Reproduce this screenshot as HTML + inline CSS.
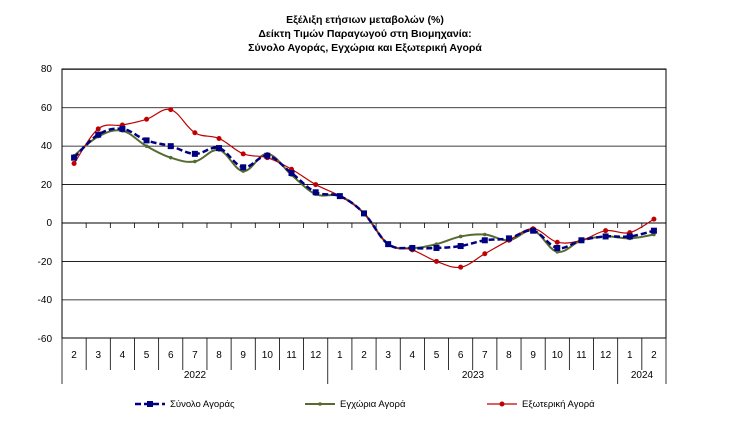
<!DOCTYPE html>
<html><head><meta charset="utf-8"><style>
body{margin:0;background:#fff;}
svg{display:block;font-family:"Liberation Sans",Arial,sans-serif;}
</style></head><body>
<svg id="s" width="730" height="426" viewBox="0 0 730 426">
<g font-size="10.5" font-weight="bold" text-anchor="middle" fill="#000">
<text x="365" y="23">Εξέλιξη ετήσιων μεταβολών (%)</text>
<text x="365" y="37">Δείκτη Τιμών Παραγωγού στη Βιομηχανία:</text>
<text x="365" y="51">Σύνολο Αγοράς, Εγχώρια και Εξωτερική Αγορά</text>
</g>
<g id="grid"></g>
<g font-size="10" text-anchor="end" fill="#000">
<text x="52" y="72">80</text><text x="52" y="111">60</text><text x="52" y="149">40</text>
<text x="52" y="188">20</text><text x="52" y="226">0</text><text x="52" y="265">-20</text>
<text x="52" y="303">-40</text><text x="52" y="342">-60</text>
</g>
<g id="xl" font-size="10" text-anchor="middle" fill="#000"></g>
<g font-size="10" text-anchor="middle" fill="#000">
<text x="195" y="378">2022</text><text x="473" y="378">2023</text><text x="642" y="378">2024</text>
</g>
<g font-size="9.5" fill="#000">
<line x1="135" y1="404" x2="165" y2="404" stroke="#000080" stroke-width="2.5" stroke-dasharray="6,3"/>
<rect x="147" y="401" width="6" height="6" fill="#000080"/>
<text x="170" y="407">Σύνολο Αγοράς</text>
<line x1="305" y1="404" x2="335" y2="404" stroke="#556b2f" stroke-width="2"/>
<circle cx="320" cy="404" r="1.8" fill="#556b2f"/>
<text x="340" y="407">Εγχώρια Αγορά</text>
<line x1="487" y1="404" x2="517" y2="404" stroke="#c00000" stroke-width="1.2"/>
<circle cx="502" cy="404" r="2.5" fill="#c00000"/>
<text x="522" y="407">Εξωτερική Αγορά</text>
</g>
<g id="series"></g>
</svg>
<script>
var L=62,R=666,T=69,B=338,n=25,w=(R-L)/n;
function Y(v){return 223-v*1.921;}
function X(i){return L+w*(i+0.5);}
var ns="http://www.w3.org/2000/svg";
function el(p,t,a){var e=document.createElementNS(ns,t);for(var k in a)e.setAttribute(k,a[k]);p.appendChild(e);return e;}
var g=document.getElementById('grid');
[80,60,40,20,-20,-40].forEach(function(v){el(g,'line',{x1:L,x2:R,y1:Y(v),y2:Y(v),stroke:'#000','stroke-width':0.8});});
el(g,'rect',{x:L,y:T,width:R-L,height:B-T,fill:'none',stroke:'#000','stroke-width':1});
el(g,'line',{x1:L,x2:R,y1:223,y2:223,stroke:'#000','stroke-width':1});
for(var i=1;i<n;i++){el(g,'line',{x1:L+w*i,x2:L+w*i,y1:223,y2:228,stroke:'#000','stroke-width':0.8});
 var yr=(i==11||i==23);el(g,'line',{x1:L+w*i,x2:L+w*i,y1:B,y2:yr?384:370,stroke:'#000','stroke-width':0.8});}
el(g,'line',{x1:L,x2:L,y1:B,y2:384,stroke:'#000','stroke-width':0.8});
el(g,'line',{x1:R,x2:R,y1:B,y2:384,stroke:'#000','stroke-width':0.8});
var m=[2,3,4,5,6,7,8,9,10,11,12,1,2,3,4,5,6,7,8,9,10,11,12,1,2];
var xl=document.getElementById('xl');
m.forEach(function(v,i){var t=el(xl,'text',{x:X(i),y:358});t.textContent=v;});
function path(d){var p=d.map(function(v,i){return[X(i),Y(v)];});var s='M'+p[0][0]+','+p[0][1];
 for(var i=0;i<p.length-1;i++){var p0=p[i-1]||p[i],p1=p[i],p2=p[i+1],p3=p[i+2]||p2,t=0.18;
 s+=' C'+(p1[0]+(p2[0]-p0[0])*t)+','+(p1[1]+(p2[1]-p0[1])*t)+' '+(p2[0]-(p3[0]-p1[0])*t)+','+(p2[1]-(p3[1]-p1[1])*t)+' '+p2[0]+','+p2[1];}return s;}
var tot=[34,46,49,43,40,36,39,29,35,26,16,14,5,-11,-13,-13,-12,-9,-8,-4,-13,-9,-7,-7,-4];
var dom=[35,45,48,40,34,32,38,27,36,25,15,14,5,-11,-13,-11,-7,-6,-9,-4,-15,-9,-7,-8,-6];
var fr=[31,49,51,54,59,47,44,36,34,28,20,14,5,-11,-14,-20,-23,-16,-9,-3,-10,-9,-4,-5,2];
var sg=document.getElementById('series');
el(sg,'path',{d:path(dom),fill:'none',stroke:'#556b2f','stroke-width':2});
dom.forEach(function(v,i){el(sg,'circle',{cx:X(i),cy:Y(v),r:1.8,fill:'#556b2f'});});
el(sg,'path',{d:path(fr),fill:'none',stroke:'#c00000','stroke-width':1.2});
fr.forEach(function(v,i){el(sg,'circle',{cx:X(i),cy:Y(v),r:2.5,fill:'#c00000'});});
el(sg,'path',{d:path(tot),fill:'none',stroke:'#000080','stroke-width':2.5,'stroke-dasharray':'6,3'});
tot.forEach(function(v,i){el(sg,'rect',{x:X(i)-3,y:Y(v)-3,width:6,height:6,fill:'#000080'});});
</script>
</body></html>
